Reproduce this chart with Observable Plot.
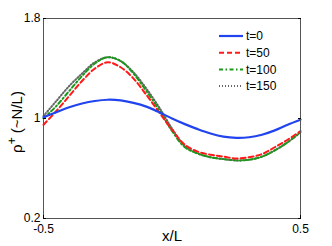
<!DOCTYPE html>
<html>
<head>
<meta charset="utf-8">
<script src="https://cdn.jsdelivr.net/npm/d3@7"></script>
<script src="https://cdn.jsdelivr.net/npm/@observablehq/plot@0.6"></script>
<style>
  html, body { margin: 0; padding: 0; background: #fff; }
  #wrap { position: relative; width: 332px; height: 246px; }
  #wrap svg { font-family: "Liberation Sans", Arial, sans-serif; }
</style>
</head>
<body>
<div id="wrap"></div>
<script>
const xs     = [-0.5,-0.45,-0.4,-0.35,-0.3,-0.25,-0.2,-0.15,-0.1,-0.05,0,0.05,0.1,0.15,0.2,0.25,0.3,0.35,0.4,0.45,0.5];
const t0     = [1.01,1.05,1.09,1.12,1.14,1.15,1.145,1.125,1.095,1.05,1.0,0.955,0.915,0.88,0.855,0.845,0.85,0.87,0.905,0.95,0.99];
const t50    = [0.95,1.06,1.18,1.30,1.40,1.45,1.41,1.32,1.19,1.05,0.91,0.79,0.735,0.71,0.695,0.68,0.69,0.715,0.77,0.83,0.90];
const t100   = [1.0,1.10,1.22,1.34,1.44,1.49,1.46,1.36,1.22,1.07,0.90,0.77,0.72,0.69,0.675,0.665,0.67,0.695,0.745,0.81,0.89];
const t150   = [1.02,1.14,1.26,1.36,1.45,1.49,1.46,1.37,1.24,1.09,0.92,0.78,0.72,0.69,0.675,0.665,0.67,0.695,0.745,0.81,0.89];
const seriesNames = ["t=0","t=50","t=100","t=150"];
const xTicks = [-0.5, 0.5];
const yTicks = [0.2, 1, 1.8];

const styles = [
  {stroke: "#2244ee", strokeWidth: 2.2, dash: null},
  {stroke: "#ff1a1a", strokeWidth: 2, dash: "5,3"},
  {stroke: "#1a9a1a", strokeWidth: 2, dash: "4,2.5,1.5,2.5"},
  {stroke: "#666666", strokeWidth: 2, dash: "1,2"}
];
const allSeries = [t0, t50, t100, t150];
const data = allSeries.map(vals => xs.map((x, i) => ({x, y: vals[i]})));

const chart = Plot.plot({
  width: 332, height: 246,
  marginLeft: 43, marginRight: 32, marginTop: 18, marginBottom: 28,
  style: {fontFamily: '"Liberation Sans", Arial, sans-serif', fontSize: "12px", background: "#fff"},
  x: {domain: [-0.5, 0.5]},
  y: {domain: [0.2, 1.8]},
  marks: [
    ...data.map((d, k) => Plot.line(d, {
      x: "x", y: "y", curve: "catmull-rom",
      stroke: styles[k].stroke, strokeWidth: styles[k].strokeWidth,
      strokeDasharray: styles[k].dash
    })).reverse(),
    Plot.frame({stroke: "#555", strokeWidth: 1}),
    Plot.axisX({ticks: xTicks, tickSize: -3, tickPadding: 9, label: null,
      tickFormat: d => d < 0 ? "-0.5" : "0.5", fontSize: 12, fill: "#000"}),
    Plot.axisY({ticks: yTicks, tickSize: -3, tickPadding: 6, label: null,
      tickFormat: d => String(d), fontSize: 12, fill: "#000"}),
    Plot.axisY({anchor: "right", ticks: yTicks, tickSize: -3, tickFormat: () => "", label: null}),
    Plot.text(["x/L"], {frameAnchor: "bottom", dy: 22, fontSize: 15, fill: "#000"})
  ]
});
document.getElementById("wrap").appendChild(chart);

const svg = d3.select(chart);
// Y label with superscript
const yl = svg.append("text")
  .attr("transform", "translate(22,122) rotate(-90)")
  .attr("text-anchor", "middle")
  .attr("font-size", 15)
  .attr("fill", "#000");
yl.append("tspan").text("ρ");
yl.append("tspan").attr("dy", -6).attr("font-size", 12).text("+");
yl.append("tspan").attr("dy", 6).text(" (~N/L)");

// Legend (inside plot, top-right)
const lg = svg.append("g").attr("transform", "translate(219,36)").attr("text-anchor", "start");
seriesNames.forEach((name, k) => {
  const g = lg.append("g").attr("transform", `translate(0,${k * 16.7})`);
  g.append("line").attr("x1", 0).attr("x2", 24).attr("y1", 0).attr("y2", 0)
    .attr("stroke", styles[k].stroke).attr("stroke-width", styles[k].strokeWidth)
    .attr("stroke-dasharray", styles[k].dash);
  g.append("text").attr("x", 27).attr("y", 0).attr("dy", "0.35em")
    .attr("text-anchor", "start")
    .attr("font-size", 12).attr("fill", "#000").text(name);
});
</script>
</body>
</html>
